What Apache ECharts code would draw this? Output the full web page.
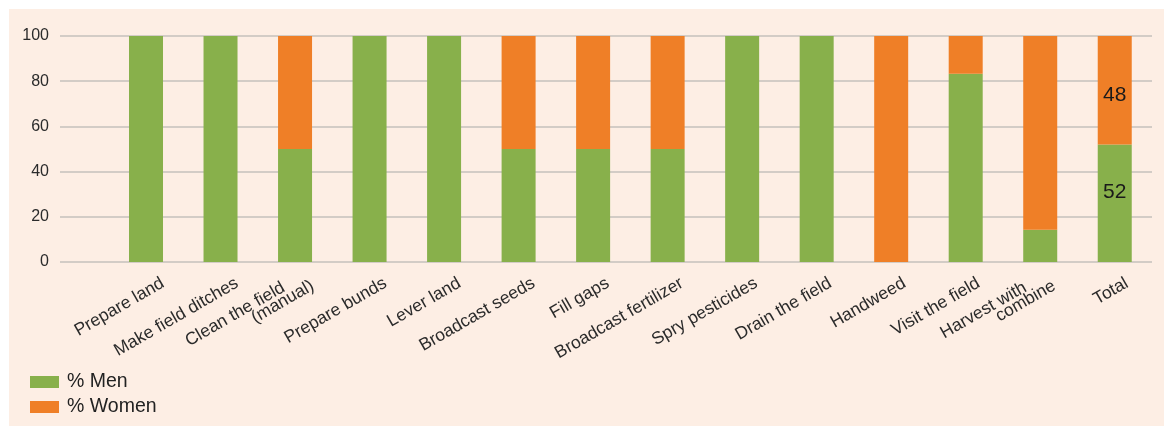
<!DOCTYPE html>
<html>
<head>
<meta charset="utf-8">
<script src="https://cdn.jsdelivr.net/npm/echarts@6/dist/echarts.min.js"></script>
<style>
  html, body { margin: 0; padding: 0; background: #ffffff; }
  #wrap { position: relative; width: 1164px; height: 426px; background: #ffffff; }
  #panel { position: absolute; left: 9px; top: 9px; width: 1155px; height: 417px; background: #fdeee4; }
  #chart { position: absolute; left: 0; top: 0; width: 1164px; height: 426px; }
</style>
</head>
<body>
<div id="wrap">
  <div id="panel"></div>
  <div id="chart"></div>
</div>
<script>
// Share of each rice-farming task done by men and women (%)
const categories = [
  'Prepare land', 'Make field ditches', 'Clean the field\n(manual)', 'Prepare bunds',
  'Lever land', 'Broadcast seeds', 'Fill gaps', 'Broadcast fertilizer',
  'Spry pesticides', 'Drain the field', 'Handweed', 'Visit the field',
  'Harvest with\ncombine', 'Total'
];
const menShare   = [100, 100, 50, 100, 100, 50, 50, 50, 100, 100, 0, 83.3, 14.3, 52];
const womenShare = [0, 0, 50, 0, 0, 50, 50, 50, 0, 0, 100, 16.7, 85.7, 48];
const yTicks = { min: 0, max: 100, interval: 20 };
const labelledIndex = categories.indexOf('Total');

const GREEN = '#88b04b';
const ORANGE = '#ef7f27';
const FONT = '"Liberation Sans", Arial, sans-serif';

const plotTop = 36, plotBottom = 164, axisLeft = 60, barsLeft = 108.75, plotRight = 12;

function withValueLabel(values, offset) {
  return values.map((v, i) => i === labelledIndex
    ? { value: v, label: { show: true, position: 'inside', offset: offset,
        formatter: p => String(p.value), color: '#1a1a1a', fontSize: 21, fontFamily: FONT } }
    : v);
}

// Category labels: two-line names get a trailing gap on their first line
function categoryLabel(name) {
  const parts = name.split('\n');
  if (parts.length === 1) return parts[0];
  return '{a|' + parts[0] + '}\n{b|' + parts[1] + '}';
}

const chart = echarts.init(document.getElementById('chart'), null, { renderer: 'canvas' });

chart.setOption({
  backgroundColor: 'transparent',
  animation: false,
  textStyle: { fontFamily: FONT },
  legend: {
    orient: 'vertical',
    left: 25, top: 366,
    itemWidth: 29, itemHeight: 12, itemGap: 3,
    icon: 'rect',
    textStyle: { fontSize: 19.5, color: '#222', fontFamily: FONT, lineHeight: 22, padding: [0, 0, 0, 3] },
    data: ['% Men', '% Women']
  },
  grid: [
    { left: axisLeft, right: plotRight, top: plotTop, bottom: plotBottom },
    { left: barsLeft, right: plotRight, top: plotTop, bottom: plotBottom },
    { left: barsLeft + 17, width: 1164 - plotRight - barsLeft, top: plotTop, bottom: plotBottom }
  ],
  xAxis: [
    { gridIndex: 0, type: 'value', show: false, min: 0, max: 1 },
    { gridIndex: 1, type: 'category', data: categories,
      axisLine: { show: false }, axisTick: { show: false }, axisLabel: { show: false } },
    { gridIndex: 2, type: 'category', data: categories,
      axisLine: { show: false }, axisTick: { show: false },
      axisLabel: {
        interval: 0, rotate: 30, margin: 20,
        fontSize: 17.5, color: '#2b2b2b', fontFamily: FONT,
        formatter: categoryLabel,
        rich: {
          a: { fontSize: 17.5, color: '#2b2b2b', fontFamily: FONT, lineHeight: 20, padding: [0, 26, 0, 0] },
          b: { fontSize: 17.5, color: '#2b2b2b', fontFamily: FONT, lineHeight: 20, padding: [0, 0, 14, 0] }
        }
      } }
  ],
  yAxis: [
    { gridIndex: 0, type: 'value', min: yTicks.min, max: yTicks.max, interval: yTicks.interval,
      axisLine: { show: false }, axisTick: { show: false },
      axisLabel: { fontSize: 16, color: '#2b2b2b', margin: 11, fontFamily: FONT },
      splitLine: { show: true, lineStyle: { color: '#c4c0bc', width: 1.6 } } },
    { gridIndex: 1, type: 'value', min: yTicks.min, max: yTicks.max, interval: yTicks.interval, show: false,
      splitLine: { show: false } },
    { gridIndex: 2, type: 'value', min: yTicks.min, max: yTicks.max, show: false, splitLine: { show: false } }
  ],
  series: [
    { name: '% Men', type: 'bar', stack: 'share', xAxisIndex: 1, yAxisIndex: 1,
      barWidth: 34, itemStyle: { color: GREEN },
      data: withValueLabel(menShare, [0, -11]) },
    { name: '% Women', type: 'bar', stack: 'share', xAxisIndex: 1, yAxisIndex: 1,
      barWidth: 34, itemStyle: { color: ORANGE },
      data: withValueLabel(womenShare, [0, 5]) }
  ]
});
</script>
</body>
</html>
